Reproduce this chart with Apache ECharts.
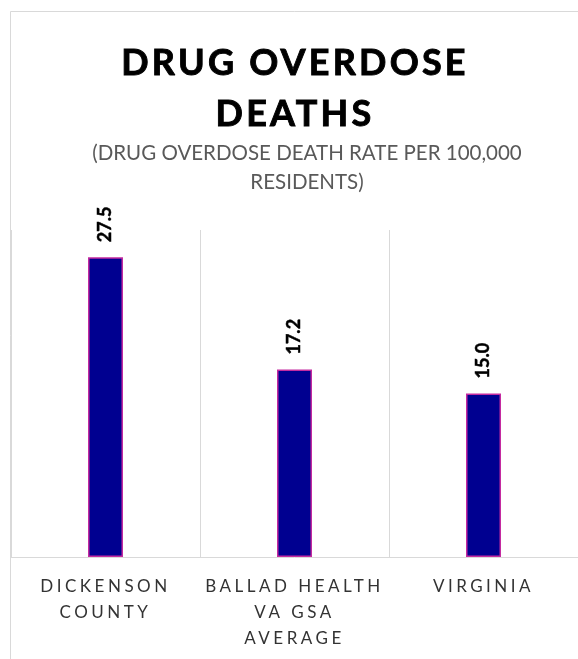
<!DOCTYPE html>
<html>
<head>
<meta charset="utf-8">
<script src="https://cdn.jsdelivr.net/npm/echarts@6/dist/echarts.min.js"></script>
<style>
html,body{margin:0;padding:0;background:#fff;}
#main{width:578px;height:659px;}
</style>
</head>
<body>
<div id="main"></div>
<script>
var categories = ['DICKENSON\nCOUNTY', 'BALLAD HEALTH\nVA GSA\nAVERAGE', 'VIRGINIA'];
var values = [27.5, 17.2, 15.0];
var titleText = 'DRUG OVERDOSE\nDEATHS';
var subtitleText = '(DRUG OVERDOSE DEATH RATE PER 100,000\nRESIDENTS)';

// letter spacing emulation (title and category labels are letter-spaced)
function spacingFor(font) {
  font = font || '';
  if (/36px/.test(font)) return 3.2;
  if (/17px/.test(font)) return 3.5;
  return 0;
}
var mcanvas = document.createElement('canvas');
var mctx = mcanvas.getContext('2d');
if (echarts.setPlatformAPI) {
  echarts.setPlatformAPI({
    measureText: function (text, font) {
      mctx.font = font || '12px sans-serif';
      mctx.letterSpacing = spacingFor(mctx.font) + 'px';
      return mctx.measureText(text);
    }
  });
}
(function () {
  var proto = CanvasRenderingContext2D.prototype;
  ['fillText', 'strokeText'].forEach(function (name) {
    var orig = proto[name];
    proto[name] = function (t, x, y, w) {
      var prev = this.letterSpacing;
      this.letterSpacing = spacingFor(this.font) + 'px';
      var r = (w === undefined) ? orig.call(this, t, x, y) : orig.call(this, t, x, y, w);
      this.letterSpacing = prev;
      return r;
    };
  });
})();

var chart = echarts.init(document.getElementById('main'), null, {renderer: 'canvas'});
var FONT = 'Lato';
chart.setOption({
  animation: false,
  backgroundColor: '#ffffff',
  graphic: [{
    type: 'rect',
    shape: {x: 10.5, y: 11.5, width: 700, height: 700},
    style: {fill: 'none', stroke: '#d9d9d9', lineWidth: 1},
    z: 0
  }],
  title: [{
    text: titleText,
    left: 290,
    top: 33,
    padding: 5,
    textAlign: 'center',
    textStyle: {fontFamily: FONT, fontSize: 36, fontWeight: 'bold', color: '#000000', lineHeight: 51,
      textBorderColor: '#000000', textBorderWidth: 0.9}
  }, {
    text: subtitleText,
    left: 302,
    top: 134,
    padding: 5,
    textAlign: 'center',
    textStyle: {fontFamily: FONT, fontSize: 20.5, fontWeight: 'normal', color: '#595959', lineHeight: 29}
  }],
  grid: {left: 11, top: 230, width: 570, height: 327, containLabel: false},
  xAxis: {
    type: 'category',
    data: categories,
    boundaryGap: true,
    axisLine: {show: true, lineStyle: {color: '#d9d9d9', width: 1}},
    axisTick: {show: false},
    splitLine: {show: true, interval: 0, lineStyle: {color: '#d9d9d9', width: 1}},
    axisLabel: {
      interval: 0,
      margin: 17,
      fontFamily: FONT,
      fontSize: 17,
      lineHeight: 26,
      color: '#333333'
    }
  },
  yAxis: {
    type: 'value',
    min: 0,
    max: 30,
    show: false,
    splitLine: {show: false}
  },
  series: [{
    type: 'bar',
    data: values,
    barWidth: 35,
    itemStyle: {color: '#000090', borderColor: '#c42aa0', borderWidth: 1.5},
    label: {
      show: true,
      position: 'top',
      rotate: 90,
      align: 'left',
      verticalAlign: 'middle',
      distance: 15,
      fontFamily: FONT,
      fontSize: 18,
      fontWeight: 'bold',
      color: '#000000',
      textBorderColor: '#000000',
      textBorderWidth: 0.5,
      formatter: function (p) { return p.value.toFixed(1); }
    }
  }]
});
</script>
</body>
</html>
